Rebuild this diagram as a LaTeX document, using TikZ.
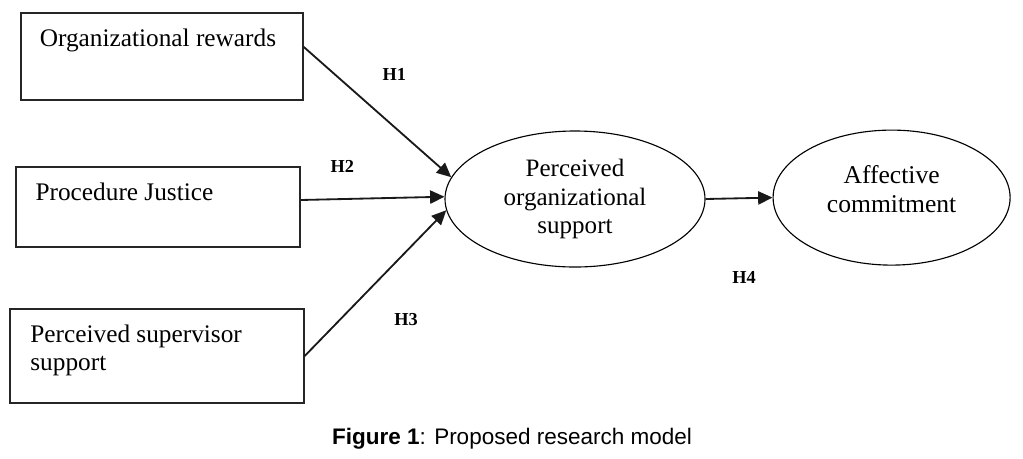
\documentclass[tikz,border=0pt]{standalone}
\usepackage{fontspec}
\setmainfont{Liberation Serif}
\newfontfamily\capfont{Liberation Sans}
\usetikzlibrary{shapes.geometric,arrows.meta,positioning,calc}

\begin{document}
\begin{tikzpicture}[
  factor/.style={rectangle, draw=black!85, line width=1pt, inner sep=0pt},
  boxtext/.style={anchor=north west, inner sep=0pt, align=left,
    font=\fontsize{18}{19.6}\selectfont},
  latent/.style={ellipse, draw=black, line width=0.8pt, inner sep=0pt, align=center,
    font=\fontsize{17.8}{20.2}\selectfont},
  hyp/.style={font=\fontsize{13}{15}\selectfont\bfseries},
  arr/.style={-{Triangle[length=3.6mm, width=3.3mm]}, black!90, line width=1.3pt}]
\useasboundingbox (0,0) rectangle (25.575,-11.45);
% antecedents
\node[factor, minimum width=7.05cm, minimum height=2.175cm] (rew) at (4.05,-1.4125) {};
\node[factor, minimum width=7.1cm, minimum height=2.0cm] (jus) at (3.95,-5.175) {};
\node[factor, minimum width=7.35cm, minimum height=2.35cm] (sup) at (3.925,-8.9) {};
\node[boxtext] (rewtxt) at ($(rew.north west)+(0.48,-0.4)$) {Organizational rewards};
\node[boxtext] (justxt) at ($(jus.north west)+(0.5,-0.42)$) {Procedure Justice};
\node[boxtext] (suptxt) at ($(sup.north west)+(0.52,-0.42)$) {Perceived supervisor\\support};
% mediator and outcome
\node[latent, minimum width=6.5cm, minimum height=3.4cm] (pos) at (14.375,-4.975)
  {Perceived\\organizational\\support};
\node[latent, minimum width=5.925cm, minimum height=3.375cm, text depth=0.45cm,
  font=\fontsize{18.2}{20.6}\selectfont] (aff) at (22.29,-4.94)
  {Affective\\commitment};
% paths
\foreach \s/\dy/\a in {rew/0.24/170.6, jus/0.175/179, sup/0/185.9}
  \draw[arr] ([yshift=\dy cm]\s.east) -- (pos.\a);
\draw[arr] (pos.east) -- (aff.west);
\node[hyp] (h1) at (9.86,-1.85) {H1};
\node[hyp] (h2) at (8.56,-4.15) {H2};
\node[hyp] (h3) at (10.15,-8.0) {H3};
\node[hyp] (h4) at (18.6,-6.925) {H4};
% caption
\node[font=\capfont\fontsize{16}{18}\selectfont] (cap) at (12.8,-10.975)
  {\textbf{Figure 1}: Proposed research model};
\end{tikzpicture}
\end{document}
